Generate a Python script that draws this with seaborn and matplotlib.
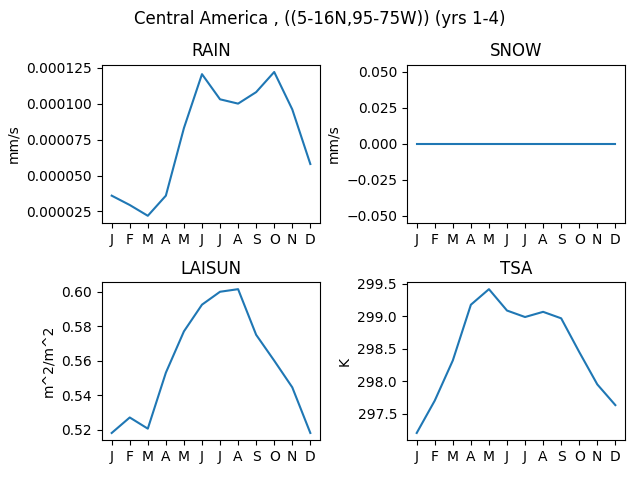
import numpy as np
import pandas as pd
import matplotlib
matplotlib.use('Agg')
import matplotlib.pyplot as plt
import seaborn as sns

months = ['J', 'F', 'M', 'A', 'M', 'J', 'J', 'A', 'S', 'O', 'N', 'D']
rain = [3.6e-5, 2.95e-5, 2.2e-5, 3.6e-5, 8.3e-5, 1.205e-4,
        1.03e-4, 1.0e-4, 1.08e-4, 1.22e-4, 9.6e-5, 5.8e-5]
snow = [0.0] * 12
laisun = [0.518, 0.527, 0.5205, 0.553, 0.577, 0.5925,
          0.600, 0.6015, 0.575, 0.560, 0.5445, 0.518]
tsa = [297.2, 297.7, 298.32, 299.18, 299.42, 299.09,
       298.99, 299.07, 298.97, 298.45, 297.95, 297.63]

variables = ['RAIN', 'SNOW', 'LAISUN', 'TSA']
units = ['mm/s', 'mm/s', 'm^2/m^2', 'K']
values = [rain, snow, laisun, tsa]

fig, axes = plt.subplots(2, 2, figsize=(6.4, 4.8))
for ax, var, unit, vals in zip(axes.flat, variables, units, values):
    df = pd.DataFrame({'month': np.arange(12), 'value': vals})
    sns.lineplot(data=df, x='month', y='value', ax=ax)
    ax.set_title(var)
    ax.set_ylabel(unit)
    ax.set_xlabel('')
    ax.set_xticks(np.arange(12))
    ax.set_xticklabels(months)

fig.suptitle('Central America , ((5-16N,95-75W)) (yrs 1-4)')
fig.subplots_adjust(left=0.159, right=0.977, top=0.865, bottom=0.083,
                    wspace=0.396, hspace=0.373)
fig.savefig('out.png', dpi=100)
